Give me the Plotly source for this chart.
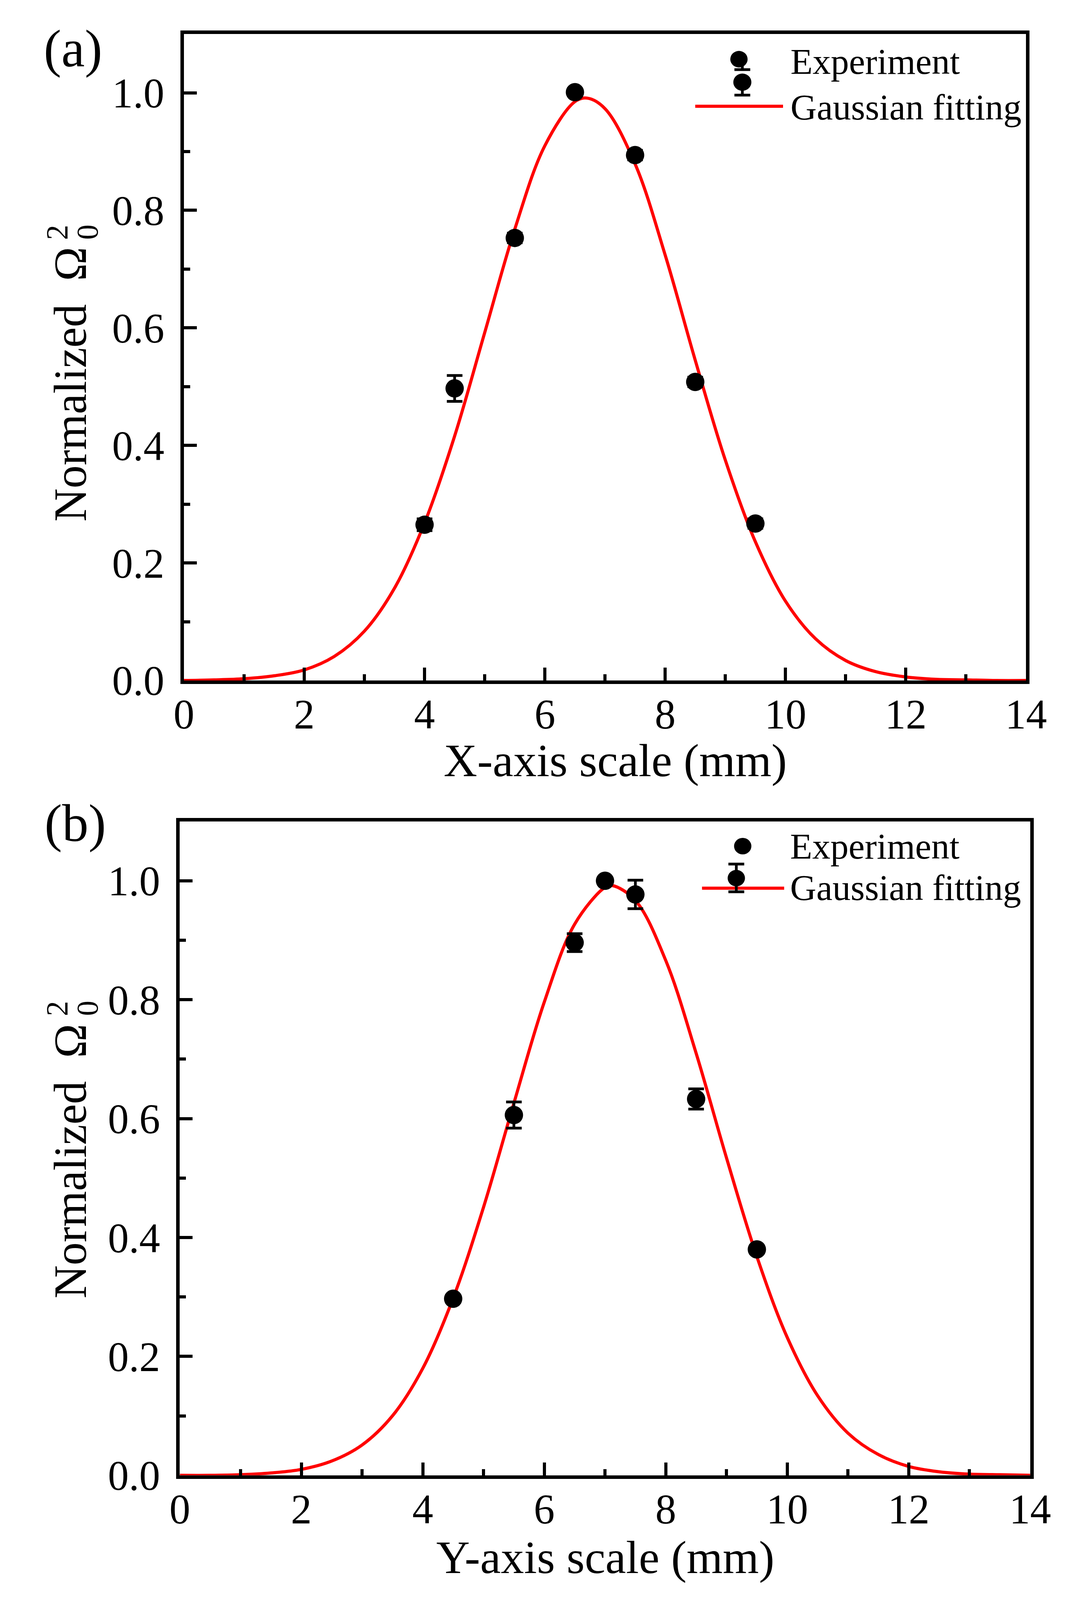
import plotly.graph_objects as go

# reference canvas, only used to turn pixel positions into paper fractions
W, H = 2750, 4370
FONT = "Liberation Serif, Times New Roman, serif"

# ---------------- data ---------------- #
# panel (a) : X-axis scan
xa_exp = [4.0, 4.5, 5.5, 6.5, 7.5, 8.5, 9.5]
ya_exp = [0.265, 0.497, 0.753, 1.001, 0.894, 0.508, 0.267]
ea_exp = [0.010, 0.022, 0.008, 0.006, 0.008, 0.008, 0.008]

xa_fit = [0, 0.5, 1, 1.5, 2, 2.5, 3, 3.5, 4, 4.5, 5, 5.5, 6, 6.5, 6.7, 7,
          7.5, 8, 8.5, 9, 9.5, 10, 10.5, 11, 11.5, 12, 12.5, 13, 13.5, 14]
ya_fit = [0.000, 0.001, 0.003, 0.008, 0.018, 0.041, 0.084, 0.157, 0.268, 0.416,
          0.592, 0.768, 0.910, 0.985, 0.991, 0.973, 0.879, 0.724, 0.545, 0.375,
          0.236, 0.135, 0.071, 0.034, 0.015, 0.006, 0.002, 0.001, 0.000, 0.000]

# panel (b) : Y-axis scan
xb_exp = [4.5, 5.5, 6.5, 7.0, 7.5, 8.5, 9.5]
yb_exp = [0.297, 0.606, 0.896, 1.000, 0.977, 0.633, 0.380]
eb_exp = [0.006, 0.022, 0.015, 0.005, 0.024, 0.017, 0.006]

xb_fit = [0, 0.5, 1, 1.5, 2, 2.5, 3, 3.5, 4, 4.5, 5, 5.5, 6, 6.5, 7, 7.12,
          7.5, 8, 8.5, 9, 9.5, 10, 10.5, 11, 11.5, 12, 12.5, 13, 13.5, 14]
yb_fit = [0.000, 0.000, 0.001, 0.004, 0.010, 0.024, 0.051, 0.100, 0.180, 0.298,
          0.451, 0.626, 0.796, 0.927, 0.989, 0.992, 0.967, 0.866, 0.710, 0.534,
          0.368, 0.232, 0.134, 0.071, 0.035, 0.015, 0.006, 0.002, 0.001, 0.000]

x_ticks = [0, 2, 4, 6, 8, 10, 12, 14]
y_ticks = [0.0, 0.2, 0.4, 0.6, 0.8, 1.0]


def px(x):
    return x / W


def py(y):
    return 1 - y / H


fig = go.Figure()

panels = [
    dict(xa="x", ya="y", xe=xa_exp, ye=ya_exp, ee=ea_exp, xf=xa_fit, yf=ya_fit),
    dict(xa="x2", ya="y2", xe=xb_exp, ye=yb_exp, ee=eb_exp, xf=xb_fit, yf=yb_fit),
]
for p in panels:
    fig.add_trace(go.Scatter(
        x=p["xf"], y=p["yf"], xaxis=p["xa"], yaxis=p["ya"], mode="lines",
        line=dict(color="#ff0000", width=8, shape="spline"), showlegend=False))
    fig.add_trace(go.Scatter(
        x=p["xe"], y=p["ye"], xaxis=p["xa"], yaxis=p["ya"], mode="markers",
        marker=dict(color="black", size=47),
        error_y=dict(type="data", array=p["ee"], color="black", thickness=7, width=20),
        showlegend=False))

axis_common = dict(
    showgrid=False, zeroline=False, showline=True, linecolor="black", linewidth=9,
    mirror=True, ticks="inside", tickcolor="black", ticklen=33, tickwidth=8,
    tickfont=dict(family=FONT, size=107, color="black"),
)
xaxis_style = dict(axis_common, range=[0, 14], tickvals=x_ticks,
                   minor=dict(ticks="inside", dtick=1, ticklen=16, tickwidth=8, tickcolor="black"),
                   ticklabelstandoff=-14)
yaxis_style = dict(axis_common, range=[0, 1.1], tickvals=y_ticks, tickformat=".1f",
                   minor=dict(ticks="inside", dtick=0.1, ticklen=16, tickwidth=8, tickcolor="black"),
                   ticklabelstandoff=20)

fig.update_layout(
    autosize=True, margin=dict(l=0, r=0, t=0, b=0),
    paper_bgcolor="white", plot_bgcolor="white",
    font=dict(family=FONT, color="black"),
    xaxis=dict(xaxis_style, domain=[px(452), px(2687)], anchor="y"),
    yaxis=dict(yaxis_style, domain=[py(1885), py(86)], anchor="x"),
    xaxis2=dict(xaxis_style, domain=[px(441), px(2698)], anchor="y2"),
    yaxis2=dict(yaxis_style, domain=[py(4097), py(2277)], anchor="x2"),
)


def text(s, x, y, size, xanchor="left", yanchor="middle", angle=0):
    fig.add_annotation(text=s, x=px(x), y=py(y), xref="paper", yref="paper",
                       xanchor=xanchor, yanchor=yanchor, showarrow=False,
                       textangle=angle, font=dict(family=FONT, size=size, color="black"))


# panel labels
text("(a)", 78, 127, 135)
text("(b)", 80, 2282, 135)

# x-axis titles
text("X-axis scale (mm)", 1597, 2108, 119, xanchor="center")
text("Y-axis scale (mm)", 1570, 4325, 119, xanchor="center")

# y-axis titles: Normalized Ω with stacked 0 / 2
for ytop, ys in [(676, 661), (2838, 2821)]:
    text("Normalized  Ω", 151, ytop, 118, xanchor="center", yanchor="top", angle=-90)
    text("2", 115, ys, 78, xanchor="center", yanchor="bottom", angle=-90)
    text("0", 195, ys, 78, xanchor="center", yanchor="bottom", angle=-90)


# hand drawn legends (Origin style)
def dot(cx, cy, r=23):
    fig.add_shape(type="circle", xref="paper", yref="paper",
                  x0=px(cx - r), x1=px(cx + r), y0=py(cy + r), y1=py(cy - r),
                  fillcolor="black", line=dict(color="black", width=0))


def seg(x0, y0, x1, y1, color="black", width=7):
    fig.add_shape(type="line", xref="paper", yref="paper",
                  x0=px(x0), x1=px(x1), y0=py(y0), y1=py(y1),
                  line=dict(color=color, width=width))


# legend (a)
seg(1809, 287, 2042, 287, color="#ff0000", width=8)
dot(1925, 156)
seg(1934, 165, 1934, 185)
seg(1913, 185, 1955, 185)
dot(1934, 220, 24)
seg(1934, 220, 1934, 256)
seg(1913, 256, 1955, 256)
text("Experiment", 2060, 195 - 0.35 * 93, 93)
text("Gaussian fitting", 2060, 322 - 0.35 * 93, 93)

# legend (b)
seg(1827, 2463, 2045, 2463, color="#ff0000", width=8)
dot(1935, 2346)
seg(1918, 2396, 1918, 2473)
seg(1897, 2396, 1939, 2396)
seg(1897, 2473, 1939, 2473)
dot(1918, 2435)
text("Experiment", 2059, 2379 - 0.35 * 93, 93)
text("Gaussian fitting", 2059, 2494 - 0.35 * 93, 93)

# fill the browser window so nothing falls below the visible area
fig.write_html("out.html", default_width="calc(100vw - 16px)",
               default_height="calc(100vh - 16px)")
